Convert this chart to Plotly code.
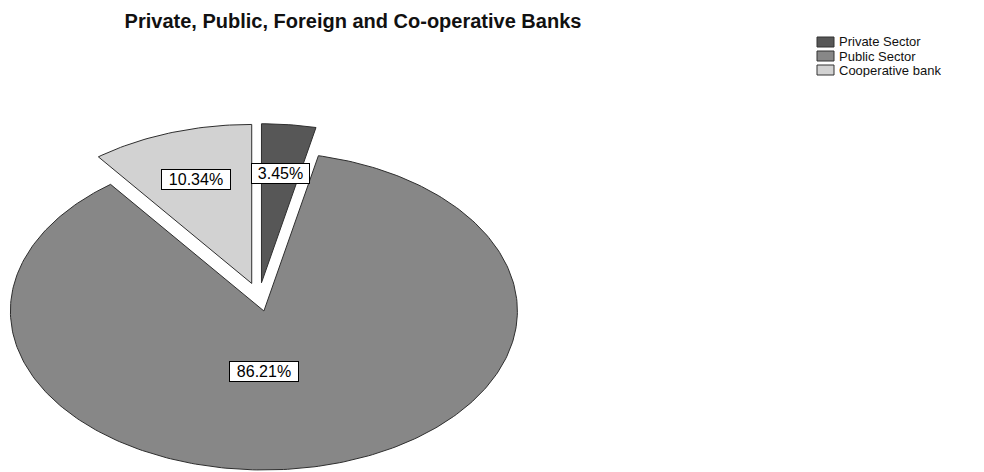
import numpy as np
import plotly.graph_objects as go

# Bank categories and their share of respondents (%)
categories = ["Private Sector", "Public Sector", "Cooperative bank"]
shares = [3.45, 86.21, 10.34]

title_text = "Private, Public, Foreign and Co-operative Banks"

# styling
fill_colors = ["#575757", "#878787", "#d2d2d2"]
edge_color = "#2e2e2e"
PULL = 0.09          # radial offset of every slice (in pie radii)
LABEL_R = 0.69       # label distance for the smaller slices

W, H = 984, 472
CX, CY = 259.0, 297.0      # pie centre in pixels
RX, RY = 253.5, 159.0      # pixels per unit radius (pie is drawn as an ellipse)


def px_to_paper(px, py):
    return px / W, 1 - py / H


fig = go.Figure()

total = float(sum(shares))
start = 0.0  # degrees, clockwise from 12 o'clock
for name, val, col in zip(categories, shares, fill_colors):
    sweep = 360.0 * val / total
    mid = np.radians(start + sweep / 2)
    dx, dy = PULL * np.sin(mid), PULL * np.cos(mid)

    t = np.radians(np.linspace(start, start + sweep, max(int(sweep), 2) + 1))
    xs = np.concatenate([[0.0], np.sin(t), [0.0]]) + dx
    ys = np.concatenate([[0.0], np.cos(t), [0.0]]) + dy
    fig.add_trace(go.Scatter(
        x=xs, y=ys, mode="lines", fill="toself", fillcolor=col,
        line=dict(color=edge_color, width=1), name=name,
        hoverinfo="name", showlegend=False,
    ))

    if val / total > 0.5:
        lx, ly = dx, dy - 0.38
    else:
        lx, ly = dx + LABEL_R * np.sin(mid), dy + LABEL_R * np.cos(mid)
    label = f"{val:.2f}%"
    fig.add_annotation(
        x=lx, y=ly, xref="x", yref="y", text=label, showarrow=False,
        width=11 * len(label), height=17,
        bgcolor="white", bordercolor="black", borderwidth=1, borderpad=1,
        font=dict(family="Liberation Sans, Arial", size=16, color="black"),
    )
    start += sweep

# legend drawn as swatches + text
for i, (name, col) in enumerate(zip(categories, fill_colors)):
    yc = 42 + 14 * i
    x0, y0 = px_to_paper(817, yc - 5)
    x1, y1 = px_to_paper(834, yc + 5)
    fig.add_shape(type="rect", xref="paper", yref="paper",
                  x0=x0, x1=x1, y0=y1, y1=y0, fillcolor=col,
                  line=dict(color="#333333", width=1))
    tx, ty = px_to_paper(838, yc)
    fig.add_annotation(x=tx, y=ty, xref="paper", yref="paper", text=name,
                       showarrow=False, xanchor="left", yanchor="middle",
                       height=13, borderpad=0,
                       font=dict(family="Liberation Sans, Arial", size=13,
                                 color="#111111"))

tx, ty = px_to_paper(353, 21)
fig.update_layout(
    width=W, height=H,
    margin=dict(l=0, r=0, t=0, b=0),
    paper_bgcolor="white", plot_bgcolor="white",
    title=dict(text=f"<b>{title_text}</b>", x=tx, xanchor="center",
               xref="paper", y=ty, yref="container", yanchor="middle",
               font=dict(family="Liberation Sans, Arial", size=20,
                         color="#111111")),
    xaxis=dict(visible=False, range=[-CX / RX, (W - CX) / RX], fixedrange=True),
    yaxis=dict(visible=False, range=[-(H - CY) / RY, CY / RY], fixedrange=True),
    showlegend=False,
)

fig.write_html("out.html")
